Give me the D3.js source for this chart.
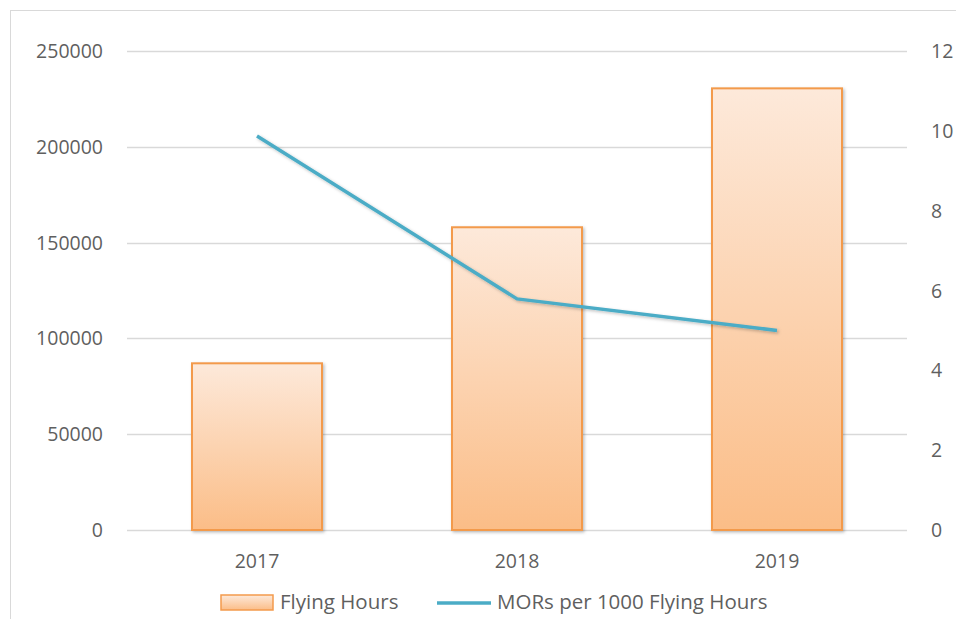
<!DOCTYPE html>
<html>
<head>
<meta charset="utf-8">
<script src="https://cdn.jsdelivr.net/npm/d3@7"></script>
<style>
  body { margin: 0; background: #fff; }
  text { font-family: "Open Sans", Lato, sans-serif; fill: #5f5f5f; }
</style>
</head>
<body>
<svg id="chart" width="956" height="619"></svg>
<script>
const years = ["2017", "2018", "2019"];
const flyingHours = [87000, 158000, 230500];
const morsPer1000 = [9.87, 5.79, 5.0];
const leftTicks = [0, 50000, 100000, 150000, 200000, 250000];
const rightTicks = [0, 2, 4, 6, 8, 10, 12];

const svg = d3.select("#chart");
const plot = { left: 127, right: 907, top: 51, bottom: 530 };
const fontSize = 19.5;

// chart frame
svg.append("rect")
  .attr("x", 10.5).attr("y", 10.5)
  .attr("width", 960).attr("height", 620)
  .attr("fill", "none").attr("stroke", "#d9d9d9");

const defs = svg.append("defs");
const grad = defs.append("linearGradient")
  .attr("id", "barGrad").attr("x1", 0).attr("y1", 0).attr("x2", 0).attr("y2", 1);
grad.append("stop").attr("offset", "0%").attr("stop-color", "#fde9da");
grad.append("stop").attr("offset", "100%").attr("stop-color", "#fbbd87");

const shadow = defs.append("filter").attr("id", "shadow")
  .attr("x", "-10%").attr("y", "-10%").attr("width", "130%").attr("height", "130%");
shadow.append("feDropShadow")
  .attr("dx", 1.5).attr("dy", 1.5).attr("stdDeviation", 1.5)
  .attr("flood-color", "#000").attr("flood-opacity", 0.25);

const x = d3.scaleBand().domain(years).range([plot.left, plot.right]).paddingInner(0.5).paddingOuter(0.25);
const yL = d3.scaleLinear().domain([0, 250000]).range([plot.bottom, plot.top]);
const yR = d3.scaleLinear().domain([0, 12]).range([plot.bottom, plot.top]);

// gridlines
svg.append("g").selectAll("line")
  .data(leftTicks)
  .join("line")
  .attr("x1", plot.left).attr("x2", plot.right)
  .attr("y1", d => Math.round(yL(d)) + 0.5).attr("y2", d => Math.round(yL(d)) + 0.5)
  .attr("stroke", "#d9d9d9").attr("stroke-width", 1.3);

// left axis labels
svg.append("g").selectAll("text")
  .data(leftTicks)
  .join("text")
  .attr("x", 103).attr("y", d => yL(d))
  .attr("dy", "0.36em")
  .attr("text-anchor", "end")
  .attr("font-size", fontSize)
  .text(d => d);

// right axis labels
svg.append("g").selectAll("text")
  .data(rightTicks)
  .join("text")
  .attr("x", 931).attr("y", d => yR(d))
  .attr("dy", "0.36em")
  .attr("font-size", fontSize)
  .text(d => d);

// bars
svg.append("g").selectAll("rect")
  .data(years)
  .join("rect")
  .attr("x", d => x(d))
  .attr("y", (d, i) => yL(flyingHours[i]))
  .attr("width", x.bandwidth())
  .attr("height", (d, i) => plot.bottom - yL(flyingHours[i]))
  .attr("fill", "url(#barGrad)")
  .attr("stroke", "#f39a4c").attr("stroke-width", 2)
  .attr("filter", "url(#shadow)");

// x labels
svg.append("g").selectAll("text")
  .data(years)
  .join("text")
  .attr("x", d => x(d) + x.bandwidth() / 2)
  .attr("y", 561)
  .attr("dy", "0.36em")
  .attr("text-anchor", "middle")
  .attr("font-size", fontSize)
  .text(d => d);

// line
const line = d3.line()
  .x((d, i) => x(years[i]) + x.bandwidth() / 2)
  .y(d => yR(d));
svg.append("path")
  .datum(morsPer1000)
  .attr("d", line)
  .attr("fill", "none")
  .attr("stroke", "#4bacc6").attr("stroke-width", 3.5)
  .attr("stroke-linejoin", "round")
  .attr("filter", "url(#shadow)");

// legend
const legend = svg.append("g");
legend.append("rect")
  .attr("x", 221).attr("y", 595).attr("width", 52).attr("height", 15)
  .attr("fill", "url(#barGrad)").attr("stroke", "#f39a4c").attr("stroke-width", 1.5);
legend.append("text")
  .attr("x", 280).attr("y", 602).attr("dy", "0.36em")
  .attr("font-size", 20.5).text("Flying Hours");
legend.append("line")
  .attr("x1", 437).attr("x2", 491).attr("y1", 603).attr("y2", 603)
  .attr("stroke", "#4bacc6").attr("stroke-width", 3.5);
legend.append("text")
  .attr("x", 497).attr("y", 602).attr("dy", "0.36em")
  .attr("font-size", 20.5).text("MORs per 1000 Flying Hours");
</script>
</body>
</html>
